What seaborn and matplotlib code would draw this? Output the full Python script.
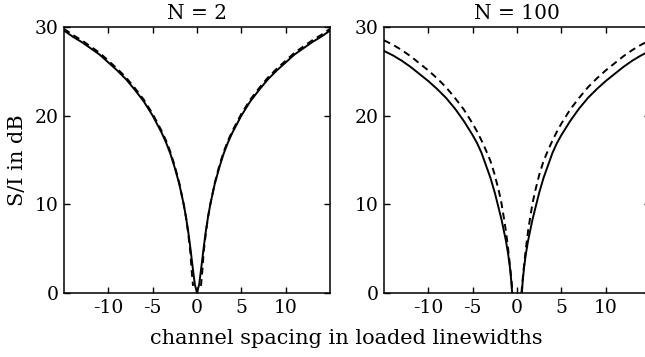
import matplotlib
matplotlib.use("Agg")
import matplotlib.pyplot as plt
import seaborn as sns
import pandas as pd

# ---- data (symmetric curves, |x| values) ----
n2_solid_x = [0, 0.25, 0.5, 0.75, 1, 1.25, 1.5, 2, 2.5, 3, 3.5, 4, 5, 6, 7, 8, 9, 10, 11, 12, 13, 14, 15]
n2_solid_y = [0, 1.0, 3.0, 5.1, 7.0, 8.6, 10.0, 12.3, 14.1, 15.7, 17.0, 18.1, 20.0, 21.6, 22.9, 24.1, 25.1, 26.0, 26.9, 27.6, 28.3, 28.9, 29.6]

n2_dash_x = [0.45, 0.6, 0.75, 1, 1.25, 1.5, 2, 2.5, 3, 3.5, 4, 5, 6, 7, 8, 9, 10, 11, 12, 13, 14, 15]
n2_dash_y = [0.8, 2.5, 4.6, 6.8, 8.6, 10.0, 12.4, 14.3, 15.9, 17.2, 18.3, 20.2, 21.8, 23.1, 24.3, 25.3, 26.2, 27.1, 27.8, 28.5, 29.1, 29.8]

n100_solid_x = [0.55, 0.65, 0.8, 1.0, 1.25, 1.5, 1.75, 2, 2.5, 3, 3.5, 4, 4.5, 5, 6, 7, 8, 9, 10, 11, 12, 13, 14, 15]
n100_solid_y = [0, 1.4, 2.9, 4.4, 5.9, 7.1, 8.3, 9.3, 11.3, 13.0, 14.4, 15.8, 16.9, 17.8, 19.4, 20.8, 22.0, 23.0, 23.9, 24.7, 25.5, 26.2, 26.8, 27.3]

n100_dash_x = [0.5, 0.7, 1.0, 1.25, 1.5, 1.75, 2, 2.5, 3, 3.5, 4, 4.5, 5, 6, 7, 8, 9, 10, 11, 12, 13, 14, 15]
n100_dash_y = [0, 2.2, 5.0, 7.0, 8.6, 10.1, 11.3, 13.3, 14.9, 16.1, 17.2, 18.2, 19.1, 20.7, 22.0, 23.2, 24.2, 25.1, 25.9, 26.7, 27.4, 28.0, 28.5]

titles = ["N = 2", "N = 100"]
x_ticks = [-10, -5, 0, 5, 10]
x_ticklabels = ["-10", "-5", "0", "5", "10"]
y_ticks = [0, 10, 20, 30]
xlabel = "channel spacing in loaded linewidths"
ylabel = "S/I in dB"

def build(panel, kind, xs, ys):
    rows = []
    for side, sgn in (("left", -1), ("right", 1)):
        for xv, yv in zip(xs, ys):
            rows.append({"panel": panel, "kind": kind, "side": side, "x": sgn * xv, "y": yv})
    return rows

rows = []
rows += build(titles[0], "solid", n2_solid_x, n2_solid_y)
rows += build(titles[0], "dashed", n2_dash_x, n2_dash_y)
rows += build(titles[1], "solid", n100_solid_x, n100_solid_y)
rows += build(titles[1], "dashed", n100_dash_x, n100_dash_y)
df = pd.DataFrame(rows)
df = df.sort_values(["panel", "kind", "side", "x"])

sns.set_theme(style="white")
plt.rcParams["font.family"] = ["DejaVu Serif"]
plt.rcParams["text.color"] = "black"
plt.rcParams["axes.labelcolor"] = "black"
plt.rcParams["xtick.color"] = "black"
plt.rcParams["ytick.color"] = "black"

W, H = 645, 357
fig = plt.figure(figsize=(W / 100, H / 100), dpi=100)
axes_px = [(64, 27, 266, 266), (384, 27, 266, 266)]
axes = []
for (l, t, w, h) in axes_px:
    ax = fig.add_axes([l / W, (H - t - h) / H, w / W, h / H])
    axes.append(ax)

for ax, title in zip(axes, titles):
    sub = df[df.panel == title]
    sns.lineplot(data=sub, x="x", y="y", style="kind", units="side", estimator=None,
                 dashes={"solid": "", "dashed": (3.5, 2.4)}, color="black",
                 linewidth=1.4, legend=False, sort=False, ax=ax)
    ax.set_xlim(-15, 15)
    ax.set_ylim(0, 30)
    ax.set_xticks(x_ticks)
    ax.set_xticklabels(x_ticklabels)
    ax.set_yticks(y_ticks)
    ax.set_title(title, fontsize=14.5, pad=5.5, color="black")
    ax.set_xlabel("")
    ax.set_ylabel("")
    ax.tick_params(direction="in", length=4, width=1, top=True, right=True,
                   bottom=True, left=True, labelsize=13.5, pad=4,
                   colors="black", labelcolor="black")
    for s in ax.spines.values():
        s.set_visible(True)
        s.set_color("black")
        s.set_linewidth(1.1)

axes[0].set_ylabel(ylabel, fontsize=15, labelpad=5, color="black")
fig.text(346 / W, 1 - 338 / H, xlabel, ha="center", va="center", fontsize=15, color="black")

fig.savefig("out.png", dpi=100)
